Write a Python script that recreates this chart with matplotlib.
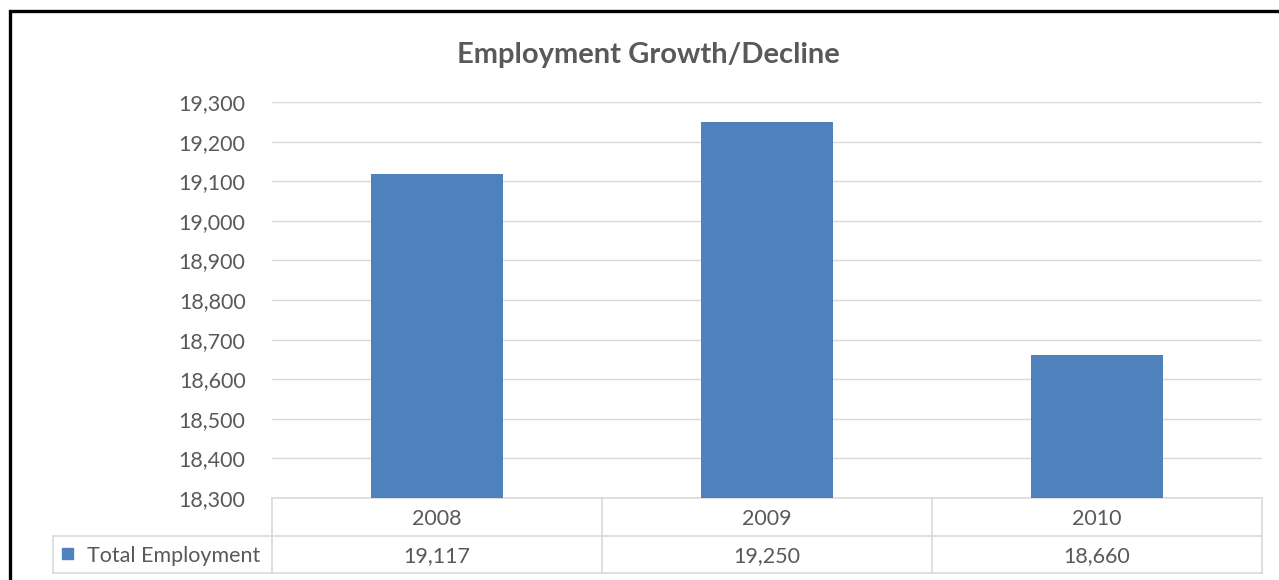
import matplotlib.pyplot as plt
import matplotlib.transforms as mtransforms
from matplotlib.lines import Line2D
from matplotlib.patches import Rectangle

years = ['2008', '2009', '2010']
employment = [19117, 19250, 18660]
series_name = 'Total Employment'
y_ticks = list(range(18300, 19301, 100))

bar_color = '#4f81bd'
text_color = '#595959'
line_color = '#d9d9d9'
fs = 15.5

plt.rcParams['font.family'] = ['Lato', 'DejaVu Sans']

fig = plt.figure(figsize=(12.79, 5.8), dpi=100)
W, H = 1279, 580
ax = fig.add_axes([272 / W, (H - 498) / H, 990 / W, 396 / H])

x = list(range(len(years)))
ax.bar(x, [v - y_ticks[0] for v in employment], bottom=y_ticks[0],
       width=0.4, color=bar_color, zorder=3)
ax.set_xlim(-0.5, len(years) - 0.5)
ax.set_ylim(y_ticks[0], y_ticks[-1])
ax.set_yticks(y_ticks)
ax.set_yticklabels([f'{t:,}' for t in y_ticks], color=text_color, fontsize=fs)
ax.tick_params(axis='y', length=0, pad=19)
ax.set_xticks([])
for t in y_ticks[1:]:
    ax.axhline(t, color=line_color, lw=1, zorder=1)
for s in ax.spines.values():
    s.set_visible(False)

# data table under the bars
tr = mtransforms.blended_transform_factory(ax.transData, ax.transAxes)
row1 = -38 / 396
row2 = -75 / 396
left = -0.5 - (272 - 53) / 330
right = len(years) - 0.5
kw = dict(color=line_color, lw=1.2, transform=tr, clip_on=False)
ax.add_line(Line2D([-0.5, right], [0, 0], **kw))
ax.add_line(Line2D([left, right], [row1, row1], **kw))
ax.add_line(Line2D([left, right], [row2, row2], **kw))
ax.add_line(Line2D([left, left], [row1, row2], **kw))
for edge in [i - 0.5 for i in range(len(years) + 1)]:
    ax.add_line(Line2D([edge, edge], [0, row2], **kw))
nudge = -2 / 396
for i, (yr, v) in enumerate(zip(years, employment)):
    ax.text(i, row1 / 2 + nudge, yr, transform=tr, ha='center', va='center',
            fontsize=fs, color=text_color)
    ax.text(i, (row1 + row2) / 2 + nudge, f'{v:,}', transform=tr,
            ha='center', va='center', fontsize=fs, color=text_color)
fig.patches.append(Rectangle((62 / W, (H - 559) / H), 11 / W, 11 / H,
                             transform=fig.transFigure, color=bar_color))
fig.text(87 / W, (H - 556) / H, series_name, ha='left', va='center',
         fontsize=fs, color=text_color)

fig.text(648 / W, (H - 55) / H, 'Employment Growth/Decline', ha='center',
         va='center', fontsize=21, fontweight='bold', color=text_color)

# black frame around the chart
fig.patches.append(Rectangle((9.5 / W, -0.1), 1.2, (H - 10.5) / H + 0.1,
                             transform=fig.transFigure, fill=False,
                             edgecolor='black', lw=2.4))

fig.savefig('out.png', dpi=100)
